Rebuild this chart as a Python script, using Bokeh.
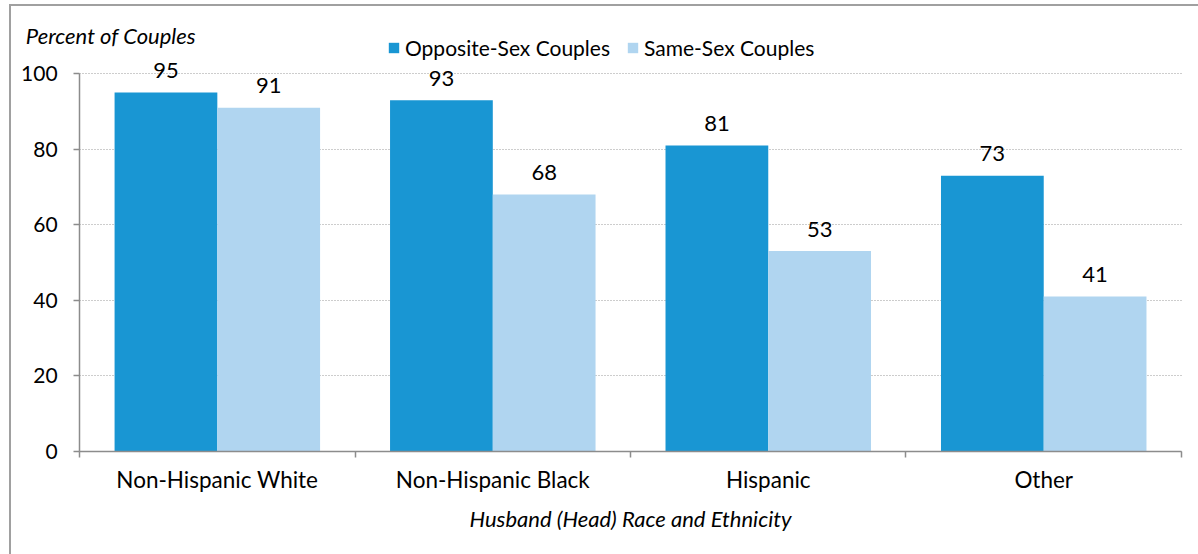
from bokeh.plotting import figure
from bokeh.models import (ColumnDataSource, FixedTicker, Legend, LegendItem, Label, Range1d)
from bokeh.core.properties import value
from bokeh.embed import file_html
from bokeh.resources import INLINE

categories = ["Non-Hispanic White", "Non-Hispanic Black", "Hispanic", "Other"]
opposite_sex = [95, 93, 81, 73]
same_sex = [91, 68, 53, 41]
y_ticks = [0, 20, 40, 60, 80, 100]
series_names = ["Opposite-Sex Couples", "Same-Sex Couples"]
y_title = "Percent of Couples"
x_title = "Husband (Head) Race and Ethnicity"

DARK = "#1996D3"
LIGHT = "#B0D5F0"
AXIS = "#8c8c8c"
FONT = "Lato"

n = len(categories)
centers = [i + 0.5 for i in range(n)]
off = 0.1865
bw = 0.373

src_o = ColumnDataSource(dict(x=[c - off for c in centers], top=opposite_sex,
                              lab=[str(v) for v in opposite_sex]))
src_s = ColumnDataSource(dict(x=[c + off for c in centers], top=same_sex,
                              lab=[str(v) for v in same_sex]))

# frame covers the whole canvas; axes are drawn at fixed data locations
p = figure(width=1189, height=550, output_backend="svg", toolbar_location=None,
           x_range=Range1d(-0.2472, 4.0691), y_range=Range1d(-27.92, 117.82),
           min_border=0, min_border_left=0, min_border_right=0,
           min_border_top=0, min_border_bottom=0)
p.outline_line_color = None
p.background_fill_color = "white"
p.border_fill_color = "white"

r_o = p.vbar(x="x", top="top", width=bw, source=src_o, fill_color=DARK, line_color=None)
r_s = p.vbar(x="x", top="top", width=bw, source=src_s, fill_color=LIGHT, line_color=None)

for src in (src_o, src_s):
    p.text(x="x", y="top", text="lab", source=src, text_align="center",
           text_baseline="alphabetic", y_offset=-22, text_font=value(FONT),
           text_font_size="22px", text_color="black")

# x axis
xa = p.xaxis[0]
xa.fixed_location = 0
xa.bounds = (0, n)
xa.ticker = FixedTicker(ticks=centers, minor_ticks=list(range(n + 1)))
xa.major_label_overrides = {c: name for c, name in zip(centers, categories)}
xa.major_tick_line_color = None
xa.major_tick_out = 0
xa.major_tick_in = 0
xa.minor_tick_line_color = AXIS
xa.minor_tick_out = 6
xa.minor_tick_in = 0
xa.axis_line_color = AXIS
xa.axis_line_width = 1.5
xa.minor_tick_line_width = 1.5
xa.major_label_standoff = 9
xa.major_label_text_font = FONT
xa.major_label_text_font_size = "22.5px"
xa.major_label_text_color = "black"

# y axis
ya = p.yaxis[0]
ya.fixed_location = 0
ya.bounds = (0, 100)
ya.ticker = FixedTicker(ticks=y_ticks, minor_ticks=[])
ya.axis_line_color = AXIS
ya.axis_line_width = 1.5
ya.major_tick_line_color = AXIS
ya.major_tick_line_width = 1.5
ya.major_tick_out = 6
ya.major_tick_in = 0
ya.minor_tick_line_color = None
ya.major_label_standoff = 16
ya.major_label_text_font = FONT
ya.major_label_text_font_size = "21px"
ya.major_label_text_color = "black"

p.xgrid.grid_line_color = None
yg = p.ygrid[0]
yg.grid_line_color = "#9a9a9a"
yg.grid_line_dash = "1 2"
yg.grid_line_width = 1
yg.bounds = (1, 100)
if hasattr(yg, "cross_bounds"):
    yg.cross_bounds = (0, n)

# titles
p.add_layout(Label(x=-0.1952, y=110.1, text=y_title, text_font=FONT,
                   text_font_style="italic", text_font_size="22px", text_color="black",
                   text_baseline="middle", text_align="left"))
p.add_layout(Label(x=n / 2, y=-17.8, text=x_title, text_font=FONT,
                   text_font_style="italic", text_font_size="22px", text_color="black",
                   text_baseline="middle", text_align="center"))

legend = Legend(items=[LegendItem(label=series_names[0], renderers=[r_o]),
                       LegendItem(label=series_names[1], renderers=[r_s])],
                orientation="horizontal", location=(376, 496),
                glyph_width=13, glyph_height=13, label_standoff=5, spacing=16,
                label_height=22, padding=0, margin=0, border_line_color=None,
                background_fill_alpha=0, label_text_font=FONT,
                label_text_font_size="21px", label_text_color="black")
p.add_layout(legend)

p.styles = {"border-left": "2px solid #a0a0a0", "border-top": "2px solid #a0a0a0",
            "box-sizing": "border-box", "margin-left": "9px", "margin-top": "4px"}

open("out.html", "w").write(file_html(p, INLINE))
